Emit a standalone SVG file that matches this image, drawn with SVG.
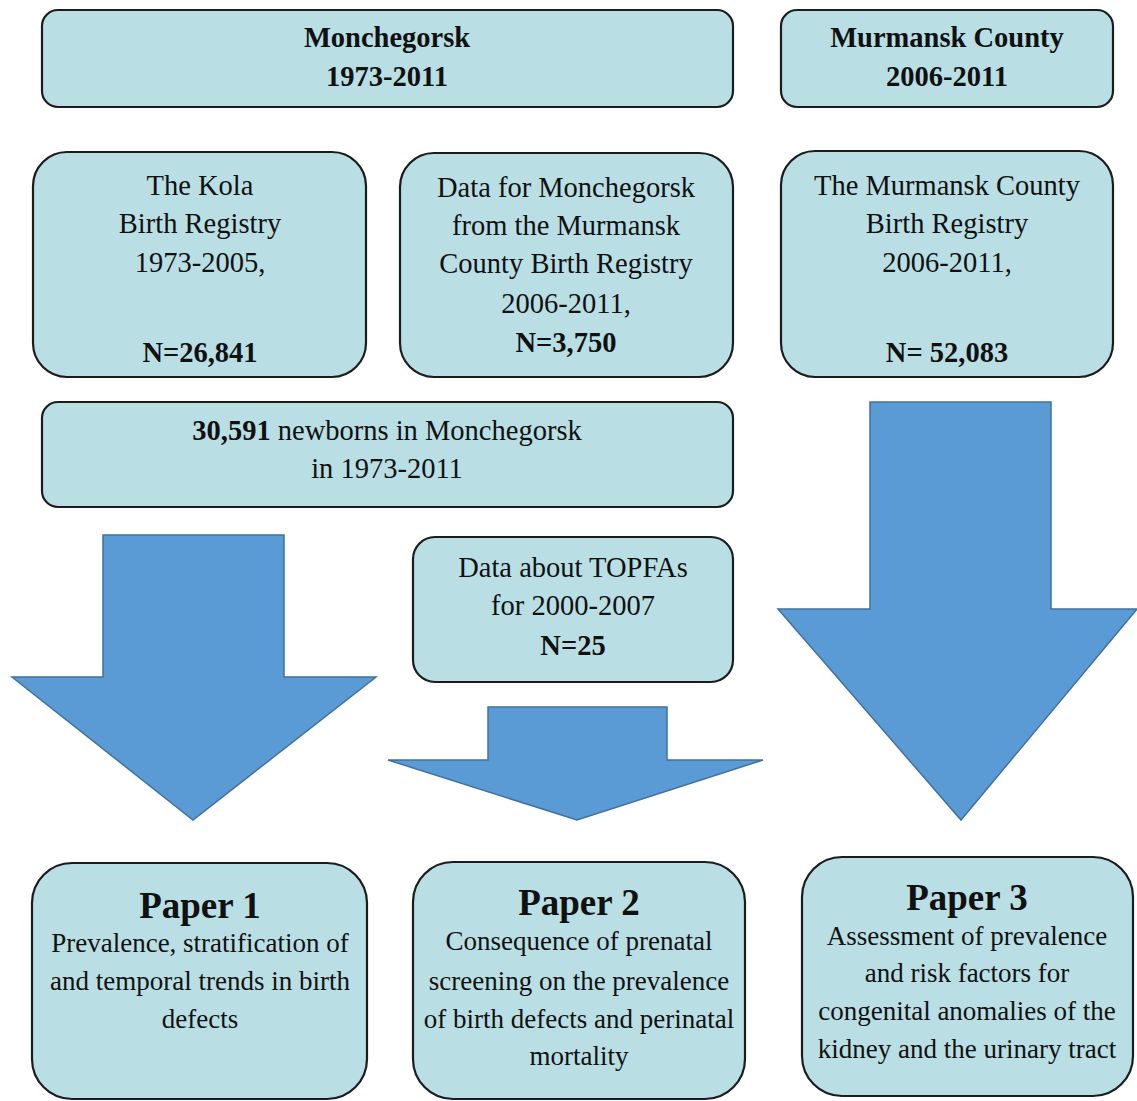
<svg xmlns="http://www.w3.org/2000/svg" width="1137" height="1101" viewBox="0 0 1137 1101">
<style>
.box{fill:#b9dfe5;stroke:#1c1c1c;stroke-width:2.2}
.arr{fill:#5b9bd5;stroke:#41719c;stroke-width:1.5}
text{fill:#111;text-anchor:middle}
.t{font-size:28.5px}
.h{font-size:28.5px;font-weight:bold}
.p{font-size:37px;font-weight:bold}
.b{font-size:27px}
</style>
<rect width="1137" height="1101" fill="#ffffff"/>
<g id="connectors">
<polygon class="arr" points="103,535 284,535 284,677 376,677 193,820 12,677 103,677"/>
<polygon class="arr" points="488,707 667,707 667,760 763,760 577,820 388,760 488,760"/>
<polygon class="arr" points="870,402 1051,402 1051,609 1137,609 961,820 778,609 870,609"/>
</g>
<g font-family="Liberation Serif, Times New Roman, DejaVu Serif, serif">
<g id="hdr-monchegorsk">
<rect class="box" x="42" y="10" width="691" height="97" rx="16"/>
<text class="h" x="387" y="47">Monchegorsk</text>
<text class="h" x="387" y="86">1973-2011</text>
</g>
<g id="hdr-murmansk">
<rect class="box" x="781" y="10" width="332" height="97" rx="16"/>
<text class="h" x="947" y="47">Murmansk County</text>
<text class="h" x="947" y="86">2006-2011</text>
</g>
<g id="kola">
<rect class="box" x="33" y="152" width="333" height="225" rx="34"/>
<text class="t" x="200" y="195">The Kola</text>
<text class="t" x="200" y="233">Birth Registry</text>
<text class="t" x="200" y="272">1973-2005,</text>
<text class="t" x="200" y="362" font-weight="bold">N=26,841</text>
</g>
<g id="monch-data">
<rect class="box" x="400" y="153" width="333" height="224" rx="34"/>
<text class="t" x="566" y="197">Data for Monchegorsk</text>
<text class="t" x="566" y="235">from the Murmansk</text>
<text class="t" x="566" y="273">County Birth Registry</text>
<text class="t" x="566" y="313">2006-2011,</text>
<text class="t" x="566" y="352" font-weight="bold">N=3,750</text>
</g>
<g id="murmansk-registry">
<rect class="box" x="781" y="151" width="332" height="226" rx="34"/>
<text class="t" x="947" y="195">The Murmansk County</text>
<text class="t" x="947" y="233">Birth Registry</text>
<text class="t" x="947" y="272">2006-2011,</text>
<text class="t" x="947" y="362" font-weight="bold">N= 52,083</text>
</g>
<g id="newborns">
<rect class="box" x="42" y="402" width="691" height="105" rx="16"/>
<text class="t" x="387" y="440"><tspan font-weight="bold">30,591</tspan> newborns in Monchegorsk</text>
<text class="t" x="387" y="478">in 1973-2011</text>
</g>
<g id="topfa">
<rect class="box" x="413" y="537" width="320" height="145" rx="22"/>
<text class="t" x="573" y="577">Data about TOPFAs</text>
<text class="t" x="573" y="615">for 2000-2007</text>
<text class="t" x="573" y="655" font-weight="bold">N=25</text>
</g>
<g id="paper1">
<rect class="box" x="32" y="863" width="335" height="236" rx="40"/>
<text class="p" x="200" y="918">Paper 1</text>
<text class="b" x="200" y="952">Prevalence, stratification of</text>
<text class="b" x="200" y="990">and temporal trends in birth</text>
<text class="b" x="200" y="1028">defects</text>
</g>
<g id="paper2">
<rect class="box" x="413" y="862" width="332" height="237" rx="40"/>
<text class="p" x="579" y="915">Paper 2</text>
<text class="b" x="579" y="950">Consequence of prenatal</text>
<text class="b" x="579" y="990">screening on the prevalence</text>
<text class="b" x="579" y="1028">of birth defects and perinatal</text>
<text class="b" x="579" y="1065">mortality</text>
</g>
<g id="paper3">
<rect class="box" x="802" y="857" width="331" height="239" rx="40"/>
<text class="p" x="967" y="910">Paper 3</text>
<text class="b" x="967" y="945">Assessment of prevalence</text>
<text class="b" x="967" y="982">and risk factors for</text>
<text class="b" x="967" y="1020">congenital anomalies of the</text>
<text class="b" x="967" y="1058">kidney and the urinary tract</text>
</g>
</g>
</svg>
